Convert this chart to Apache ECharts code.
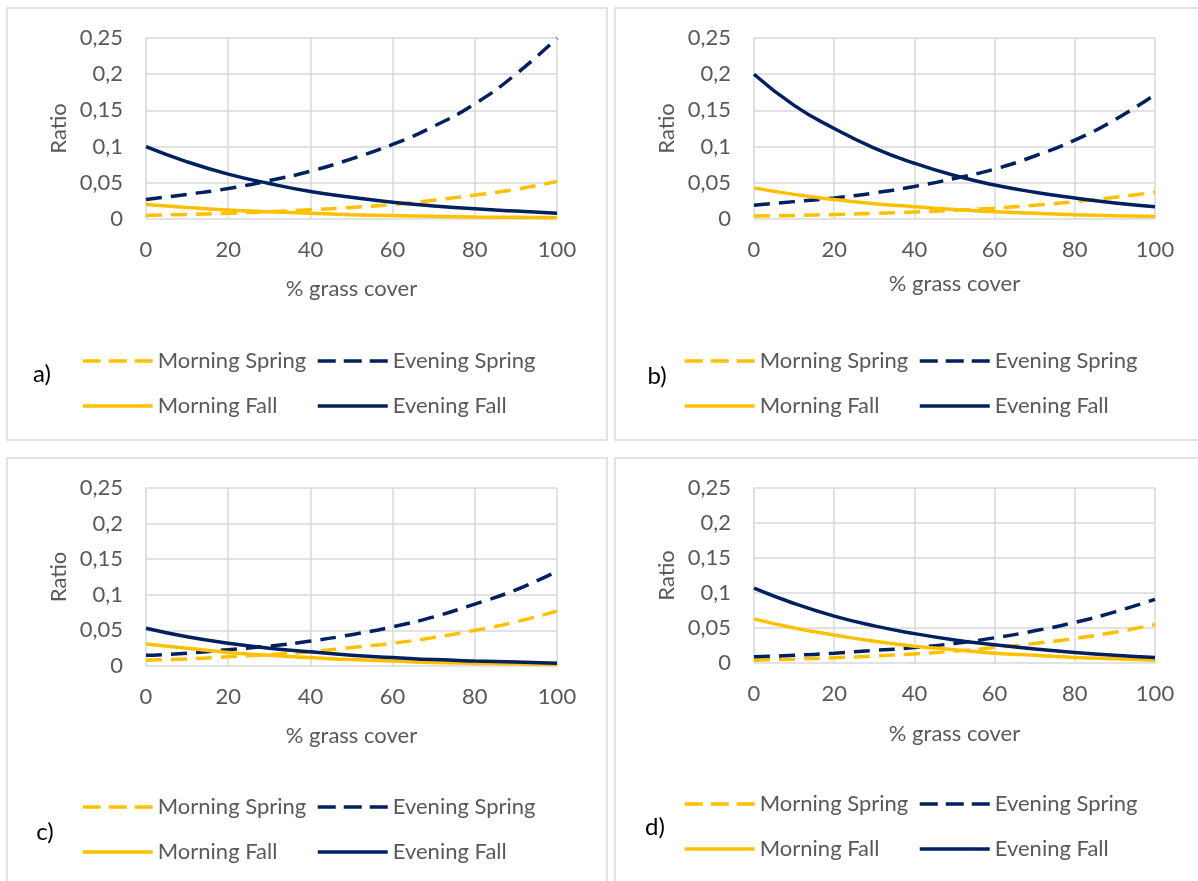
<!DOCTYPE html>
<html>
<head>
<meta charset="utf-8">
<script src="https://cdn.jsdelivr.net/npm/echarts@6/dist/echarts.min.js"></script>
<style>html,body{margin:0;padding:0;background:#fff}#c{width:1198px;height:881px}</style>
</head>
<body>
<div id="c"></div>
<script>
// ---- data ----
const grassCover = [0, 10, 20, 30, 40, 50, 60, 70, 80, 90, 100];
const seriesNames = ['Morning Spring', 'Evening Spring', 'Morning Fall', 'Evening Fall'];
const panelLabels = ['a)', 'b)', 'c)', 'd)'];
const yTickLabels = ['0', '0,05', '0,1', '0,15', '0,2', '0,25'];
const xTickLabels = ['0', '20', '40', '60', '80', '100'];

const aMorningSpring = [0.005, 0.0063, 0.008, 0.0101, 0.0128, 0.016, 0.020, 0.026, 0.033, 0.041, 0.052];
const aEveningSpring = [0.027, 0.034, 0.042, 0.053, 0.066, 0.083, 0.103, 0.128, 0.159, 0.200, 0.250];
const aMorningFall   = [0.020, 0.016, 0.0125, 0.010, 0.0078, 0.006, 0.0048, 0.0037, 0.0029, 0.0023, 0.0018];
const aEveningFall   = [0.100, 0.079, 0.062, 0.049, 0.038, 0.030, 0.023, 0.018, 0.014, 0.011, 0.008];

const bMorningSpring = [0.004, 0.005, 0.0062, 0.0078, 0.0097, 0.012, 0.015, 0.019, 0.024, 0.030, 0.037];
const bEveningSpring = [0.019, 0.024, 0.029, 0.036, 0.045, 0.056, 0.069, 0.087, 0.109, 0.137, 0.172];
const bMorningFall   = [0.043, 0.034, 0.027, 0.021, 0.017, 0.013, 0.010, 0.008, 0.006, 0.0045, 0.0035];
const bEveningFall   = [0.200, 0.157, 0.125, 0.098, 0.077, 0.060, 0.047, 0.037, 0.029, 0.022, 0.017];

const cMorningSpring = [0.008, 0.010, 0.013, 0.016, 0.020, 0.026, 0.032, 0.040, 0.050, 0.062, 0.077];
const cEveningSpring = [0.015, 0.018, 0.023, 0.028, 0.035, 0.044, 0.055, 0.069, 0.087, 0.107, 0.133];
const cMorningFall   = [0.031, 0.025, 0.019, 0.015, 0.012, 0.009, 0.007, 0.005, 0.004, 0.003, 0.002];
const cEveningFall   = [0.053, 0.041, 0.032, 0.025, 0.020, 0.015, 0.012, 0.009, 0.007, 0.0055, 0.004];

const dMorningSpring = [0.004, 0.0055, 0.0075, 0.010, 0.013, 0.017, 0.022, 0.028, 0.035, 0.044, 0.055];
const dEveningSpring = [0.009, 0.011, 0.014, 0.018, 0.022, 0.028, 0.036, 0.046, 0.058, 0.073, 0.091];
const dMorningFall   = [0.063, 0.050, 0.040, 0.031, 0.024, 0.019, 0.014, 0.011, 0.008, 0.006, 0.004];
const dEveningFall   = [0.107, 0.085, 0.067, 0.053, 0.042, 0.033, 0.026, 0.020, 0.015, 0.011, 0.008];

const panelData = [
  [aMorningSpring, aEveningSpring, aMorningFall, aEveningFall],
  [bMorningSpring, bEveningSpring, bMorningFall, bEveningFall],
  [cMorningSpring, cEveningSpring, cMorningFall, cEveningFall],
  [dMorningSpring, dEveningSpring, dMorningFall, dEveningFall]
];

// ---- styling / layout ----
const GOLD = '#FFC000', NAVY = '#002060', TXT = '#595959', GRID = '#d9d9d9';
const FONT = 'Lato';
const FS = 22;
const seriesStyle = [
  {color: GOLD, type: [16, 9], legendType: [18, 8]},
  {color: NAVY, type: [16, 9], legendType: [18, 8]},
  {color: GOLD, type: 'solid', legendType: 'solid'},
  {color: NAVY, type: 'solid', legendType: 'solid'}
];
const grids = [
  {left: 146, right: 641, top: 38, bottom: 662},
  {left: 754, right: 43, top: 38, bottom: 662},
  {left: 146, right: 641, top: 488, bottom: 215},
  {left: 754, right: 43, top: 488, bottom: 218}
];
const boxes = [
  {x: 7, y: 8, w: 600, h: 432},
  {x: 615, y: 8, w: 584, h: 432},
  {x: 7, y: 458, w: 600, h: 440},
  {x: 615, y: 458, w: 584, h: 440}
];
const xNameGap = [59, 54, 59, 60];
const legendRows = [[361, 406], [361, 406], [807, 852], [804, 849]];
const legendCols = [[81, 316], [683, 918], [81, 316], [683, 918]];
const labelPos = [[42, 374], [657, 376], [45, 832], [655, 827]];

const option = {
  backgroundColor: '#fff',
  animation: false,
  grid: grids.map(g => Object.assign({containLabel: false}, g)),
  xAxis: grids.map((g, i) => ({
    gridIndex: i, type: 'value', min: 0, max: 100, interval: 20,
    name: '% grass cover', nameLocation: 'middle', nameGap: xNameGap[i],
    nameTextStyle: {color: TXT, fontFamily: FONT, fontSize: FS},
    axisLine: {show: false}, axisTick: {show: false},
    axisLabel: {color: TXT, fontFamily: FONT, fontSize: FS, margin: 20,
      formatter: v => xTickLabels[Math.round(v / 20)]},
    splitLine: {show: true, lineStyle: {color: GRID, width: 1.5}}
  })),
  yAxis: grids.map((g, i) => ({
    gridIndex: i, type: 'value', min: 0, max: 0.25, interval: 0.05,
    name: 'Ratio', nameLocation: 'middle', nameGap: 76, nameRotate: 90,
    nameTextStyle: {color: TXT, fontFamily: FONT, fontSize: FS},
    axisLine: {show: false}, axisTick: {show: false},
    axisLabel: {color: TXT, fontFamily: FONT, fontSize: FS, margin: 23,
      formatter: v => yTickLabels[Math.round(v / 0.05)]},
    splitLine: {show: true, lineStyle: {color: GRID, width: 1.5}}
  })),
  legend: [],
  series: [],
  graphic: []
};

panelData.forEach((arrs, p) => {
  arrs.forEach((vals, s) => {
    option.series.push({
      name: seriesNames[s], type: 'line', xAxisIndex: p, yAxisIndex: p,
      smooth: true, symbol: 'none', silent: true,
      lineStyle: {color: seriesStyle[s].color, width: 3.5, type: seriesStyle[s].type},
      itemStyle: {color: seriesStyle[s].color},
      data: grassCover.map((x, k) => [x, vals[k]])
    });
  });
  seriesNames.forEach((nm, s) => {
    const row = s < 2 ? 0 : 1, col = s % 2;
    option.legend.push({
      data: [nm], selectedMode: false, padding: 0,
      left: legendCols[p][col], top: legendRows[p][row] - 12,
      itemWidth: 70, itemHeight: 14, itemGap: 0,
      itemStyle: {opacity: 0},
      lineStyle: {width: 3.5, color: seriesStyle[s].color, type: seriesStyle[s].legendType},
      textStyle: {color: TXT, fontFamily: FONT, fontSize: FS, lineHeight: 24}
    });
  });
  const b = boxes[p];
  option.graphic.push({
    type: 'rect', silent: true, z: -10,
    shape: {x: b.x, y: b.y, width: b.w, height: b.h},
    style: {fill: 'none', stroke: GRID, lineWidth: 1.5}
  });
  option.graphic.push({
    type: 'text', silent: true,
    x: labelPos[p][0], y: labelPos[p][1],
    style: {text: panelLabels[p], fill: '#000', font: '24px ' + FONT,
      align: 'center', verticalAlign: 'middle'}
  });
});

const chart = echarts.init(document.getElementById('c'), null, {renderer: 'canvas'});
chart.setOption(option);
</script>
</body>
</html>
